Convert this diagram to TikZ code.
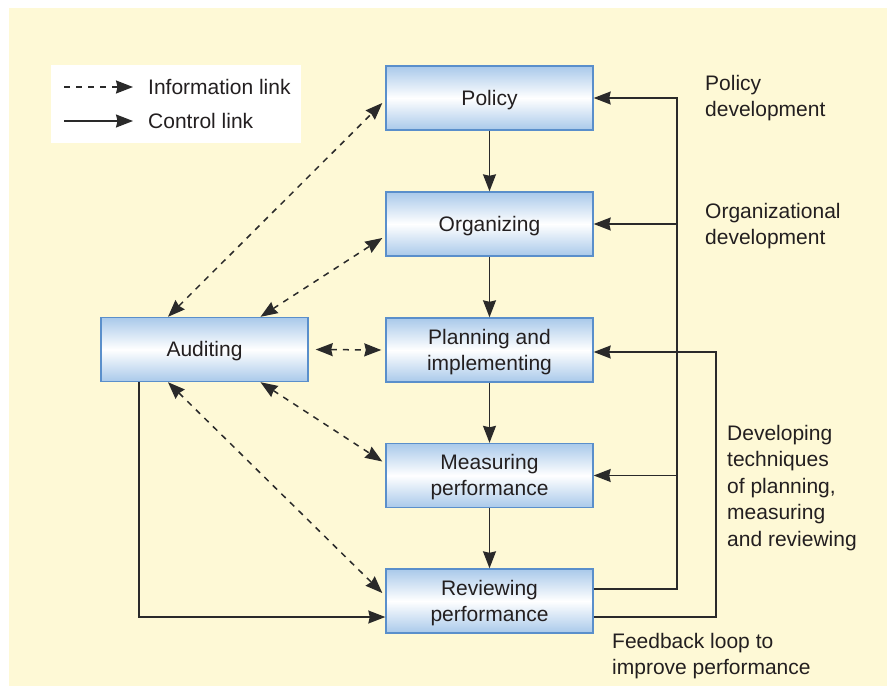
\documentclass[tikz,border=0pt]{standalone}
\usepackage{fontspec}
\setmainfont{Liberation Sans}
\usetikzlibrary{arrows.meta,calc}
\definecolor{bgyellow}{HTML}{FEF9D6}
\definecolor{boxblue}{HTML}{A9C9EA}
\definecolor{boxedge}{HTML}{5A8FCB}
\definecolor{ink}{HTML}{231F20}
\definecolor{linec}{HTML}{2A2A2A}
\newcommand{\lowtxt}[1]{\raisebox{-2pt}[\height][\depth]{#1}}
\tikzset{
  procbox/.style={draw=boxedge, line width=1.4pt, top color=boxblue, bottom color=boxblue, middle color=white,
    minimum width=207pt, minimum height=64pt, inner sep=0pt, align=center, text=ink,
    font=\fontsize{21}{26}\selectfont},
  lbl/.style={anchor=north west, inner sep=0pt, align=left, text=ink, font=\fontsize{21}{26.5}\selectfont},
  tip/.tip={Stealth[length=17pt,width=13pt,inset=1.5pt]},
  ctrl/.style={draw=linec, line width=1.4pt, -tip},
  info/.style={draw=linec, line width=1.5pt, dash pattern=on 6pt off 6pt, tip-tip},
  infoone/.style={draw=linec, line width=1.5pt, dash pattern=on 6pt off 6pt, -tip},
}
\begin{document}
\begin{tikzpicture}[x=1pt,y=-1pt]
\useasboundingbox (0,0) rectangle (887,686);
\fill[bgyellow] (9,8) rectangle (887,686);
% legend
\fill[white] (51,65) rectangle (301,143);
\coordinate (l1a) at (64,87);
\coordinate (l1b) at (133,87);
\coordinate (l2a) at (64,121);
\coordinate (l2b) at (133,121);
\draw[infoone] (l1a) -- (l1b);
\draw[ctrl] (l2a) -- (l2b);
\node[anchor=west, inner sep=0pt, text=ink, font=\fontsize{21}{26}\selectfont] (lt1) at (148,87) {Information link};
\node[anchor=west, inner sep=0pt, text=ink, font=\fontsize{21}{26}\selectfont] (lt2) at (148,121) {Control link};
% boxes
\node[procbox] (pol) at (489.5,98) {\lowtxt{Policy}};
\node[procbox] (org) at (489.5,224) {\lowtxt{Organizing}};
\node[procbox] (pla) at (489.5,350) {\lowtxt{Planning and}\\\lowtxt{implementing}};
\node[procbox] (mea) at (489.5,475.5) {\lowtxt{Measuring}\\\lowtxt{performance}};
\node[procbox] (rev) at (489.5,601) {\lowtxt{Reviewing}\\\lowtxt{performance}};
\node[procbox] (aud) at (204.5,349.5) {\lowtxt{Auditing}};
% vertical control chain
\draw[ctrl] (pol.south) -- (org.north);
\draw[ctrl] (org.south) -- (pla.north);
\draw[ctrl] (pla.south) -- (mea.north);
\draw[ctrl] (mea.south) -- (rev.north);
% right loop
\coordinate (r1) at (677,589);
\draw[ctrl] (rev.east |- r1) -- (r1) |- (pol.east);
\draw[ctrl] (r1 |- org.east) -- (org.east);
\draw[ctrl] (r1 |- mea.east) -- (mea.east);
% feedback loop
\coordinate (r2) at (716,617);
\coordinate (r3) at (716,352);
\draw[ctrl] (rev.east |- r2) -- (r2) -- (r3) -- (pla.east |- r3);
% auditing to reviewing
\coordinate (a1) at (139,617);
\draw[ctrl] (a1 |- aud.south) -- (a1) -- (rev.west |- a1);
% information links
\draw[info] ([xshift=-36.5pt]aud.north) -- ([xshift=-3pt,yshift=-5pt]pol.west);
\draw[info] ([xshift=56pt]aud.north) -- ([xshift=-3pt,yshift=-14pt]org.west);
\draw[info] ([xshift=7pt]aud.east) -- ([xshift=-4pt]pla.west);
\draw[info] ([xshift=56pt]aud.south) -- ([xshift=-3pt,yshift=14pt]mea.west);
\draw[info] ([xshift=-36.5pt]aud.south) -- ([xshift=-3pt,yshift=8pt]rev.west);
% labels
\node[lbl] (t1) at (705,75) {Policy\\development};
\node[lbl] (t2) at (705,203) {Organizational\\development};
\node[lbl] (t3) at (727,425) {Developing\\techniques\\of planning,\\measuring\\and reviewing};
\node[lbl] (t4) at (612,633) {Feedback loop to\\improve performance};
\end{tikzpicture}
\end{document}
